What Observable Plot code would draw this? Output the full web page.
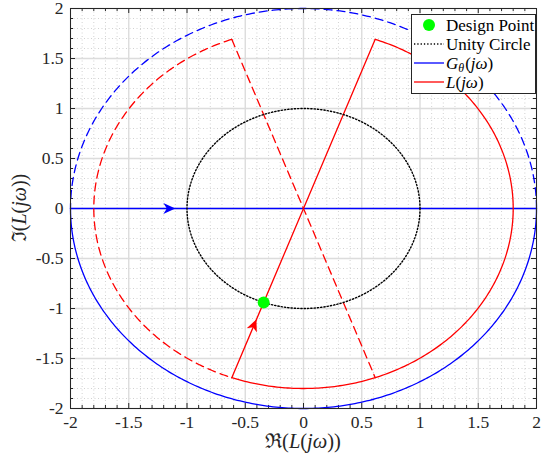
<!DOCTYPE html>
<html>
<head>
<meta charset="utf-8">
<script src="https://cdn.jsdelivr.net/npm/d3@7"></script>
<script src="https://cdn.jsdelivr.net/npm/@observablehq/plot@0.6"></script>
<style>
  html, body { margin: 0; padding: 0; background: #fff; }
  #chart { position: relative; width: 542px; height: 460px; }
  #chart svg text { font-family: 'Liberation Serif', 'DejaVu Serif', serif; }
</style>
</head>
<body>
<div id="chart"></div>
<script>
// ---- data ----
const majorTicks = [-2, -1.5, -1, -0.5, 0, 0.5, 1, 1.5, 2];
const minorTicks = d3.range(-20, 21).map(i => i / 10).filter(v => Math.abs(v * 2 - Math.round(v * 2)) > 1e-9);

const unityRadius = 1;
const gRadius = 2;                 // G_theta(jw) circle radius
const gSolidArc = [180, 360];      // degrees
const gDashedArc = [0, 180];
const gLine = [180, 0];            // endpoints (angles) of the real-axis segment
const lRadius = 1.8;               // L(jw) radius
const lSolidArc = [-110, 70];
const lDashedArc = [110, 250];
const lSolidLine = [250, 70];
const lDashedLine = [110, 290];
const designPoint = [{x: -0.342, y: -0.940}];
const blueArrow = [{x: -1.10, y: 0, dir: 0}];
const redArrow = [{x: -0.404, y: -1.109, dir: 70}];

// ---- helpers ----
const rad = a => a * Math.PI / 180;
function arc(r, [a0, a1], n = 240) {
  return d3.range(n + 1).map(i => {
    const a = rad(a0 + (a1 - a0) * i / n);
    return {x: r * Math.cos(a), y: r * Math.sin(a)};
  });
}
function seg(r, [a0, a1]) {
  return [{x: r * Math.cos(rad(a0)), y: r * Math.sin(rad(a0))},
          {x: r * Math.cos(rad(a1)), y: r * Math.sin(rad(a1))}];
}

const W = 542, H = 460, ML = 70, MR = 6, MT = 8, MB = 52;
const kx = (W - ML - MR) / 4, ky = (H - MT - MB) / 4;
const screenRot = d => Math.atan2(Math.cos(rad(d)) * kx, Math.sin(rad(d)) * ky) * 180 / Math.PI;

const arrowSymbol = {
  draw(ctx) {
    ctx.moveTo(0, 0);
    ctx.lineTo(5.5, 12);
    ctx.lineTo(0, 8.5);
    ctx.lineTo(-5.5, 12);
    ctx.closePath();
  }
};

const ff = "'Liberation Serif', 'DejaVu Serif', serif";
const axisColor = "#262626";
const BLUE = "#0000ff", RED = "#ff0000";
const dash = "8,5";
const LW = 1.3;
const TICK_FS = 17.5;
const fw = W - ML - MR, fh = H - MT - MB;

const chart = Plot.plot({
  width: W, height: H,
  marginLeft: ML, marginRight: MR, marginTop: MT, marginBottom: MB,
  style: {fontFamily: ff, fontSize: TICK_FS + "px", color: axisColor, background: "#fff"},
  x: {domain: [-2, 2], ticks: majorTicks, tickFormat: d => String(d), label: null},
  y: {domain: [-2, 2], ticks: majorTicks, tickFormat: d => String(d), label: null},
  marks: [
    // grids
    Plot.ruleX(minorTicks, {x: d => d, stroke: "#d2d2d2", strokeDasharray: "1,2.5", strokeWidth: 1}),
    Plot.ruleY(minorTicks, {y: d => d, stroke: "#d2d2d2", strokeDasharray: "1,2.5", strokeWidth: 1}),
    Plot.ruleX(majorTicks, {x: d => d, stroke: "#dcdcdc", strokeWidth: 1.4}),
    Plot.ruleY(majorTicks, {y: d => d, stroke: "#dcdcdc", strokeWidth: 1.4}),
    // inward ticks
    Plot.ruleX(majorTicks, {x: d => d, insetTop: fh - 5, stroke: axisColor}),
    Plot.ruleX(majorTicks, {x: d => d, insetBottom: fh - 5, stroke: axisColor}),
    Plot.ruleY(majorTicks, {y: d => d, insetRight: fw - 5, stroke: axisColor}),
    Plot.ruleY(majorTicks, {y: d => d, insetLeft: fw - 5, stroke: axisColor}),
    Plot.ruleX(minorTicks, {x: d => d, insetTop: fh - 3, stroke: axisColor}),
    Plot.ruleX(minorTicks, {x: d => d, insetBottom: fh - 3, stroke: axisColor}),
    Plot.ruleY(minorTicks, {y: d => d, insetRight: fw - 3, stroke: axisColor}),
    Plot.ruleY(minorTicks, {y: d => d, insetLeft: fw - 3, stroke: axisColor}),
    Plot.axisX({ticks: majorTicks, tickFormat: d => String(d), tickSize: 0, tickPadding: 7, fontSize: TICK_FS, fontFamily: ff, fill: axisColor, label: null}),
    Plot.axisY({ticks: majorTicks, tickFormat: d => String(d), tickSize: 0, tickPadding: 7, fontSize: TICK_FS, fontFamily: ff, fill: axisColor, label: null}),
    // G_theta
    Plot.line(arc(gRadius, gDashedArc), {x: "x", y: "y", stroke: BLUE, strokeWidth: LW, strokeDasharray: dash}),
    Plot.line(arc(gRadius, gSolidArc), {x: "x", y: "y", stroke: BLUE, strokeWidth: LW}),
    Plot.line(seg(gRadius, gLine), {x: "x", y: "y", stroke: BLUE, strokeWidth: LW}),
    // L
    Plot.line(arc(lRadius, lDashedArc), {x: "x", y: "y", stroke: RED, strokeWidth: LW, strokeDasharray: dash}),
    Plot.line(seg(lRadius, lDashedLine), {x: "x", y: "y", stroke: RED, strokeWidth: LW, strokeDasharray: dash}),
    Plot.line(arc(lRadius, lSolidArc), {x: "x", y: "y", stroke: RED, strokeWidth: LW}),
    Plot.line(seg(lRadius, lSolidLine), {x: "x", y: "y", stroke: RED, strokeWidth: LW}),
    // unity circle
    Plot.line(arc(unityRadius, [0, 360], 360), {x: "x", y: "y", stroke: "#000", strokeWidth: 1.4, strokeDasharray: "1.3,2"}),
    // arrows
    Plot.dot(blueArrow, {x: "x", y: "y", symbol: arrowSymbol, fill: BLUE, stroke: "none", rotate: d => screenRot(d.dir)}),
    Plot.dot(redArrow, {x: "x", y: "y", symbol: arrowSymbol, fill: RED, stroke: "none", rotate: d => screenRot(d.dir)}),
    // design point
    Plot.dot(designPoint, {x: "x", y: "y", r: 6, fill: "#00ff00", stroke: "none"}),
    Plot.frame({stroke: axisColor, strokeWidth: 1})
  ]
});

const svg = d3.select(chart);
svg.selectAll("text").attr("font-family", ff);

// axis labels with math styling
function mathLabel(sel, lead) {
  sel.append("tspan").text(lead);
  sel.append("tspan").text("(");
  sel.append("tspan").attr("font-style", "italic").text("L");
  sel.append("tspan").text("(");
  sel.append("tspan").attr("font-style", "italic").text("jω");
  sel.append("tspan").text("))");
}
const xl = svg.append("text").attr("x", ML + fw / 2).attr("y", 448)
  .attr("text-anchor", "middle").attr("font-family", ff).attr("font-size", 20.5).attr("fill", axisColor);
mathLabel(xl, "ℜ");
const yl = svg.append("text").attr("transform", `translate(26,${MT + fh / 2}) rotate(-90)`)
  .attr("text-anchor", "middle").attr("font-family", ff).attr("font-size", 20).attr("fill", axisColor);
mathLabel(yl, "ℑ");

// legend
const lg = svg.append("g").attr("font-family", ff).attr("font-size", 17).attr("fill", "#000")
  .attr("text-anchor", "start");
lg.append("rect").attr("x", 411.5).attr("y", 14.5).attr("width", 124).attr("height", 79)
  .attr("fill", "#fff").attr("stroke", axisColor).attr("stroke-width", 1);
const rows = [25, 44, 63, 82];
lg.append("circle").attr("cx", 429).attr("cy", rows[0]).attr("r", 6).attr("fill", "#00ff00");
lg.append("line").attr("x1", 414).attr("x2", 444).attr("y1", rows[1]).attr("y2", rows[1])
  .attr("stroke", "#000").attr("stroke-width", 1.4).attr("stroke-dasharray", "1.3,2");
lg.append("line").attr("x1", 414).attr("x2", 444).attr("y1", rows[2]).attr("y2", rows[2])
  .attr("stroke", BLUE).attr("stroke-width", LW);
lg.append("line").attr("x1", 414).attr("x2", 444).attr("y1", rows[3]).attr("y2", rows[3])
  .attr("stroke", RED).attr("stroke-width", LW);
lg.append("text").attr("x", 446).attr("y", rows[0]).attr("dy", "0.35em").text("Design Point");
lg.append("text").attr("x", 446).attr("y", rows[1]).attr("dy", "0.35em").text("Unity Circle");
const g3 = lg.append("text").attr("x", 446).attr("y", rows[2]).attr("dy", "0.35em");
g3.append("tspan").attr("font-style", "italic").text("G");
g3.append("tspan").attr("font-style", "italic").attr("font-size", 12).attr("dy", 3).text("θ");
g3.append("tspan").attr("dy", -3).attr("dx", 1).text("(");
g3.append("tspan").attr("font-style", "italic").text("jω");
g3.append("tspan").text(")");
const g4 = lg.append("text").attr("x", 446).attr("y", rows[3]).attr("dy", "0.35em");
g4.append("tspan").attr("font-style", "italic").text("L");
g4.append("tspan").text("(");
g4.append("tspan").attr("font-style", "italic").text("jω");
g4.append("tspan").text(")");

document.getElementById("chart").appendChild(chart);
</script>
</body>
</html>
